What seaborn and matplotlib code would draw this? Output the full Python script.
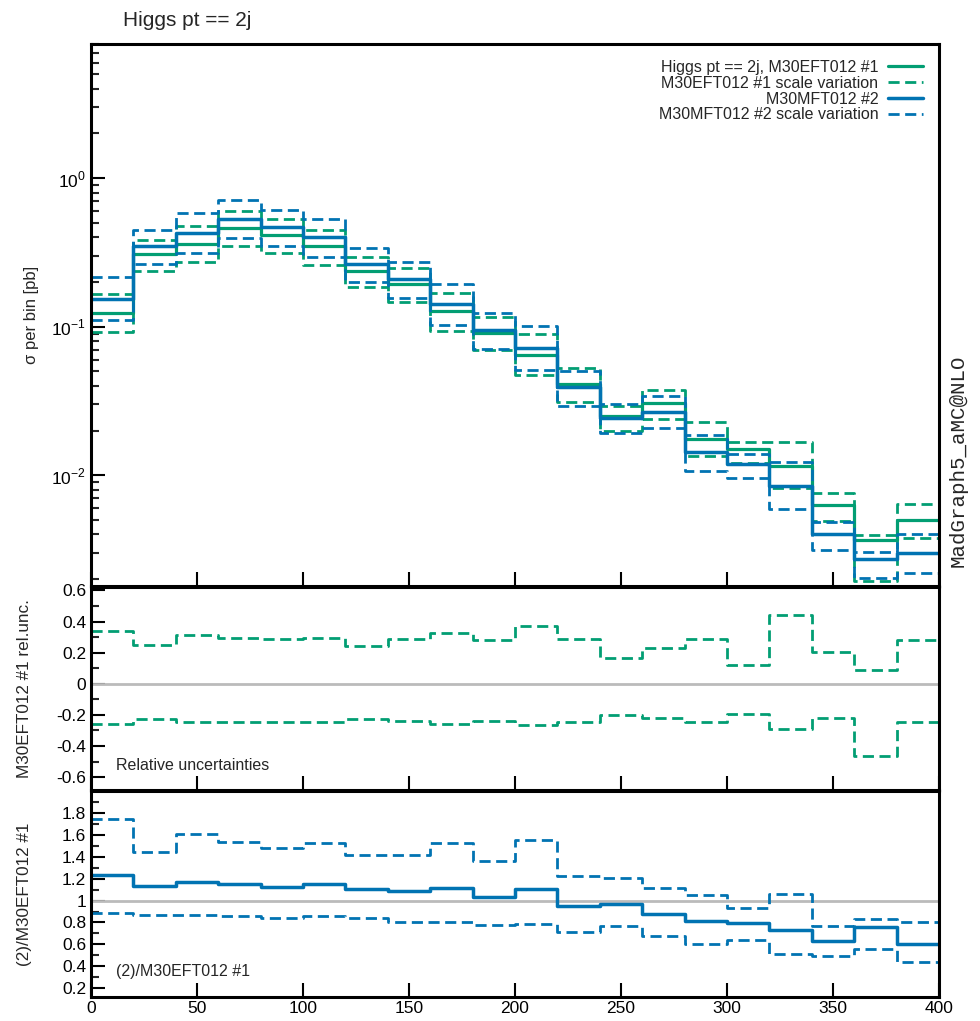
import numpy as np
import pandas as pd
import seaborn as sns
import matplotlib
matplotlib.use('Agg')
import matplotlib.pyplot as plt
from matplotlib.ticker import MultipleLocator, FixedLocator, LogLocator, NullFormatter

# bins in Higgs pt
edges = np.arange(0, 401, 20)

# M30EFT012 #1 central cross section per bin [pb]
sigma_eft = [0.124, 0.308, 0.363, 0.463, 0.415, 0.347, 0.239, 0.193, 0.127, 0.0914,
             0.065, 0.0412, 0.025, 0.0305, 0.0177, 0.0150, 0.0116, 0.00635, 0.00365, 0.0050]
# relative scale uncertainty of #1
relunc_up = [0.34, 0.247, 0.315, 0.292, 0.288, 0.294, 0.243, 0.285, 0.328, 0.281,
             0.37, 0.285, 0.166, 0.23, 0.288, 0.123, 0.439, 0.206, 0.091, 0.283]
relunc_dn = [-0.258, -0.226, -0.245, -0.245, -0.245, -0.245, -0.228, -0.24, -0.258, -0.238,
             -0.268, -0.247, -0.204, -0.219, -0.243, -0.192, -0.294, -0.222, -0.466, -0.245]
# M30MFT012 #2 over #1
ratio_mft = [1.236, 1.135, 1.17, 1.153, 1.126, 1.15, 1.11, 1.085, 1.116, 1.037,
             1.104, 0.948, 0.972, 0.881, 0.81, 0.792, 0.728, 0.633, 0.755, 0.60]
ratio_mft_up = [1.74, 1.447, 1.605, 1.538, 1.477, 1.526, 1.413, 1.413, 1.526, 1.364,
                1.557, 1.22, 1.208, 1.113, 1.052, 0.933, 1.061, 0.768, 0.835, 0.80]
ratio_mft_dn = [0.89, 0.865, 0.865, 0.86, 0.844, 0.856, 0.838, 0.807, 0.807, 0.78,
                0.783, 0.71, 0.768, 0.679, 0.605, 0.636, 0.511, 0.495, 0.562, 0.438]

sig = np.array(sigma_eft)
eft_up = sig * (1 + np.array(relunc_up))
eft_dn = sig * (1 + np.array(relunc_dn))
mft = sig * np.array(ratio_mft)
mft_up = sig * np.array(ratio_mft_up)
mft_dn = sig * np.array(ratio_mft_dn)

sns.set_theme(style="ticks")
plt.rcParams['font.family'] = ['Liberation Sans', 'DejaVu Sans']
plt.rcParams['axes.unicode_minus'] = False
plt.rcParams['mathtext.fontset'] = 'custom'
plt.rcParams['mathtext.rm'] = 'Liberation Sans'

pal = sns.color_palette("colorblind")
green = pal[2]
blue = pal[0]
DASH = (0, (4, 2))


def step(ax, vals, color, ls='-', lw=2.5, label=None):
    y = np.append(vals, vals[-1])
    df = pd.DataFrame({'x': edges, 'y': y})
    sns.lineplot(data=df, x='x', y='y', ax=ax, color=color, linestyle=ls, lw=lw,
                 drawstyle='steps-post', estimator=None, label=label, legend=False)


fig = plt.figure(figsize=(9.8, 10.21), dpi=100)
W, H = 980, 1021


def box(l, t, r, b):
    return [l / W, 1 - b / H, (r - l) / W, (b - t) / H]


ax1 = fig.add_axes(box(91, 44, 939, 586))
ax2 = fig.add_axes(box(91, 587, 939, 790))
ax3 = fig.add_axes(box(91, 791, 939, 997))

# main panel
step(ax1, sig, green, '-', 2.3, 'Higgs pt == 2j, M30EFT012 #1')
step(ax1, eft_up, green, DASH, 2.0, 'M30EFT012 #1 scale variation')
step(ax1, eft_dn, green, DASH, 2.0)
step(ax1, mft, blue, '-', 2.5, 'M30MFT012 #2')
step(ax1, mft_up, blue, DASH, 2.0, 'M30MFT012 #2 scale variation')
step(ax1, mft_dn, blue, DASH, 2.0)
ax1.set_yscale('log')
ax1.set_ylim(0.0018, 8)
ax1.yaxis.set_major_locator(FixedLocator([0.01, 0.1, 1]))
ax1.set_yticklabels([r'$10^{-2}$', r'$10^{-1}$', r'$10^{0}$'])
ax1.yaxis.set_minor_locator(LogLocator(base=10, subs=np.arange(2, 10)))
ax1.yaxis.set_minor_formatter(NullFormatter())
ax1.set_ylabel('σ per bin [pb]', fontsize=12)
ax1.legend(loc='upper right', frameon=False, markerfirst=False, fontsize=11.5,
           handlelength=2.2, labelspacing=0.05, borderaxespad=0.6, handletextpad=0.6)
for t in ax1.get_legend().get_texts():
    t.set_ha('right')
ax1.get_legend()._legend_box.align = 'right'

# relative uncertainties
ax2.axhline(0, color='#bbbbbb', lw=2)
step(ax2, np.array(relunc_up), green, DASH, 2.0)
step(ax2, np.array(relunc_dn), green, DASH, 2.0)
ax2.set_ylim(-0.683, 0.622)
ax2.yaxis.set_major_locator(FixedLocator([-0.6, -0.4, -0.2, 0, 0.2, 0.4, 0.6]))
ax2.set_yticklabels(['-0.6', '-0.4', '-0.2', '0', '0.2', '0.4', '0.6'])
ax2.yaxis.set_minor_locator(MultipleLocator(0.1))
ax2.set_ylabel('M30EFT012 #1 rel.unc.', fontsize=12.3)
ax2.text(0.03, 0.1, 'Relative uncertainties', transform=ax2.transAxes, fontsize=11.5)

# ratio
ax3.axhline(1, color='#bbbbbb', lw=2)
step(ax3, np.array(ratio_mft), blue, '-', 2.5)
step(ax3, np.array(ratio_mft_up), blue, DASH, 2.0)
step(ax3, np.array(ratio_mft_dn), blue, DASH, 2.0)
ax3.set_ylim(0.12, 2.0)
yt = [0.2, 0.4, 0.6, 0.8, 1.0, 1.2, 1.4, 1.6, 1.8]
ax3.yaxis.set_major_locator(FixedLocator(yt))
ax3.set_yticklabels(['0.2', '0.4', '0.6', '0.8', '1', '1.2', '1.4', '1.6', '1.8'])
ax3.yaxis.set_minor_locator(MultipleLocator(0.1))
ax3.set_ylabel('(2)/M30EFT012 #1', fontsize=12.3)
ax3.text(0.03, 0.1, '(2)/M30EFT012 #1', transform=ax3.transAxes, fontsize=11.5)

for ax in (ax1, ax2, ax3):
    ax.set_xlim(0, 400)
    ax.xaxis.set_major_locator(MultipleLocator(50))
    ax.set_xlabel('')
    ax.tick_params(axis='both', which='major', direction='in', length=10, width=1.5,
                   labelsize=12.5, colors='black')
    ax.tick_params(axis='y', which='minor', direction='in', length=6, width=1.5, left=True)
    ax.tick_params(axis='x', which='minor', bottom=False)
    for s in ax.spines.values():
        s.set_linewidth(2.2)
        s.set_color('black')
    ax.yaxis.set_label_coords(-0.070, 0.5)
    ax.set_facecolor('white')

ax1.yaxis.set_label_coords(-0.061, 0.5)
ax1.tick_params(labelbottom=False)
ax2.tick_params(labelbottom=False)
ax3.tick_params(axis='x', pad=3)

fig.text(123 / W, 1 - 20 / H, 'Higgs pt == 2j', fontsize=15, va='center', ha='left')
fig.text(958 / W, 1 - 461 / H, 'MadGraph5_aMC@NLO', rotation=90, fontsize=15,
         family=['Liberation Mono', 'DejaVu Sans Mono'], va='center', ha='center')

fig.savefig('out.png', dpi=100, facecolor='white')
